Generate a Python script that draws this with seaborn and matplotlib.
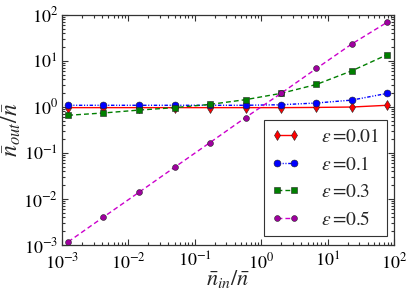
import numpy as np
import pandas as pd
import seaborn as sns
import matplotlib.pyplot as plt
from matplotlib.lines import Line2D

# x values shared by all series (n_in / n)
n_in = [1.24e-3, 4.2e-3, 0.0145, 0.0496, 0.170, 0.581, 1.99, 6.79, 23.2, 79.5]

eps_labels = ["0.01", "0.1", "0.3", "0.5"]
out_001 = [0.96, 0.96, 0.96, 0.96, 0.96, 0.96, 0.96, 0.97, 0.99, 1.08]
out_01 = [1.08, 1.08, 1.08, 1.08, 1.08, 1.08, 1.11, 1.21, 1.40, 1.96]
out_03 = [0.655, 0.735, 0.85, 0.96, 1.13, 1.43, 1.96, 3.06, 6.05, 13.6]
out_05 = [0.00117, 0.00403, 0.0140, 0.0486, 0.168, 0.585, 1.96, 6.8, 23.2, 69.0]

sns.set_theme(style="ticks")
plt.rcParams["font.family"] = ["STIXGeneral", "DejaVu Serif"]
plt.rcParams["mathtext.fontset"] = "stix"
plt.rcParams["xtick.direction"] = "in"
plt.rcParams["ytick.direction"] = "in"

W, H = 415, 292
L, R, T, B = 62, 394, 14.7, 245
fig = plt.figure(figsize=(W / 100, H / 100), dpi=100)
ax = fig.add_axes([L / W, 1 - B / H, (R - L) / W, (B - T) / H])

series = [out_001, out_01, out_03, out_05]
colors = ["red", "blue", "#007f00", "#cc00cc"]
faces = ["red", "blue", "#007f00", "#a000a0"]
markers = ["d", "o", "s", "o"]
styles = ["-", (0, (2.5, 1.2, 0.8, 1.2, 0.8, 1.2)), (0, (3.5, 2.2)), (0, (3.5, 2.2))]
sizes = [5, 5, 4.5, 4.2]

handles = []
for vals, lab, c, fc, m, ls, ms in zip(series, eps_labels, colors, faces, markers, styles, sizes):
    df = pd.DataFrame({"x": n_in, "y": vals})
    sns.lineplot(data=df, x="x", y="y", ax=ax, color=c, linestyle=ls, lw=1.0,
                 marker=m, markersize=ms, markerfacecolor=fc,
                 markeredgecolor="#222222", markeredgewidth=0.4)
    handles.append(Line2D([0], [0], color=c, linestyle=ls, lw=1.0, marker=m,
                          markersize=ms, markerfacecolor=fc,
                          markeredgecolor="#222222", markeredgewidth=0.4,
                          label=r"$\epsilon\,$=" + lab))

ax.set_xscale("log")
ax.set_yscale("log")
ax.set_xlim(1e-3, 1e2)
ax.set_ylim(1e-3, 1e2)
ax.tick_params(which="both", top=True, right=True, colors="#333333",
               labelcolor="black", labelsize=13, width=0.8)
ax.tick_params(which="major", length=4, pad=3)
ax.tick_params(axis="x", which="major", pad=5)
ax.tick_params(which="minor", length=2)
for sp in ax.spines.values():
    sp.set_color("#333333")
    sp.set_linewidth(0.9)

ax.set_xlabel(r"$\bar{n}_{in}/\bar{n}$", fontsize=16, labelpad=-3)
ax.set_ylabel(r"$\bar{n}_{out}/\bar{n}$", fontsize=17, labelpad=0)

# legend frame corner (lower right) in axes fraction
lx = (386.7 - L) / (R - L)
ly = (B - 236) / (B - T)
leg = ax.legend(handles=handles, loc="lower right", fontsize=14, numpoints=2,
                handlelength=1.45, handletextpad=1.1, labelspacing=0.5,
                borderpad=0.38, borderaxespad=0, fancybox=False, framealpha=1,
                edgecolor="#333333", bbox_to_anchor=(lx, ly))
leg.get_frame().set_linewidth(0.8)

fig.savefig("out.png", dpi=100)
